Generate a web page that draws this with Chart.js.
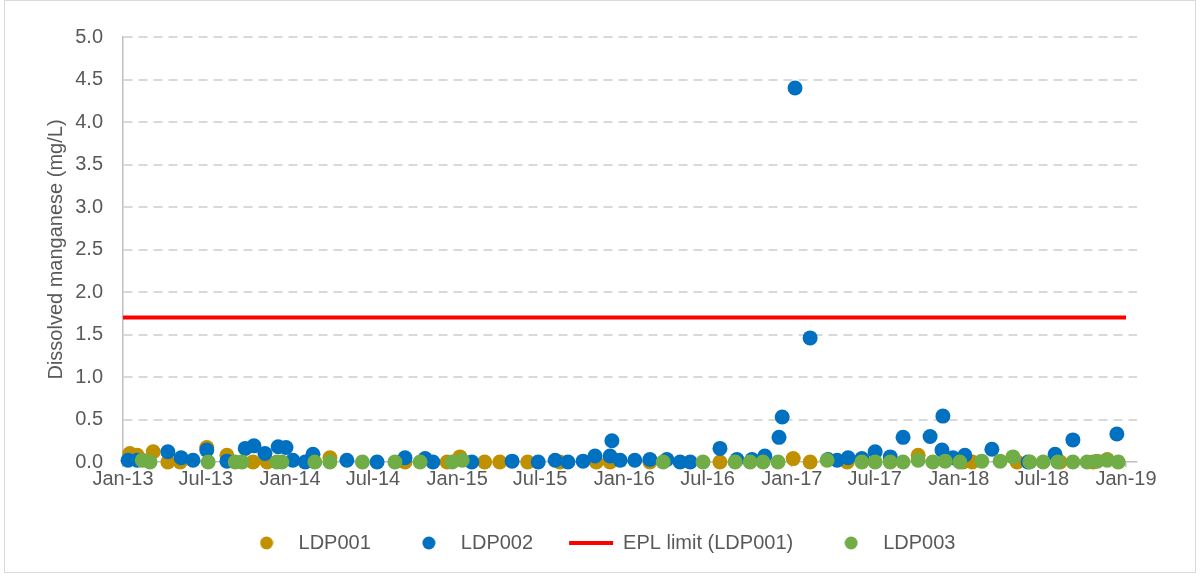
<!DOCTYPE html>
<html>
<head>
<meta charset="utf-8">
<script src="https://cdn.jsdelivr.net/npm/chart.js@4.4.1/dist/chart.umd.min.js"></script>
<style>
  html, body { margin: 0; padding: 0; background: #fff; }
  #wrap { position: relative; width: 1200px; height: 576px; }
</style>
</head>
<body>
<div id="wrap"><canvas id="chart" width="1200" height="576"></canvas></div>
<script>
// sample dates and dissolved manganese (mg/L)
const ldp001Dates = ['2013-01-16', '2013-02-01', '2013-03-08', '2013-04-09', '2013-05-06', '2013-07-03',
  '2013-08-16', '2013-10-12', '2013-11-12', '2014-03-29', '2014-09-09', '2014-12-10', '2015-01-07',
  '2015-03-02', '2015-04-04', '2015-06-04', '2015-08-13', '2015-11-01', '2015-12-01', '2016-02-26',
  '2016-07-28', '2017-01-04', '2017-02-10', '2017-05-02', '2017-10-04', '2018-01-10', '2018-01-30',
  '2018-05-08', '2018-08-10', '2018-10-21', '2018-11-21'];
const ldp001Values = [0.10, 0.08, 0.12, 0.00, 0.00, 0.17,
  0.08, 0.00, 0.00, 0.05, 0.00, 0.00, 0.06,
  0.00, 0.00, 0.00, 0.00, 0.00, 0.00, 0.00,
  0.00, 0.04, 0.00, 0.00, 0.08, 0.00, 0.00,
  0.00, 0.00, 0.00, 0.03];

const ldp002Dates = ['2013-01-12', '2013-02-01', '2013-04-09', '2013-05-08', '2013-06-03', '2013-07-03',
  '2013-08-16', '2013-09-25', '2013-10-14', '2013-11-07', '2013-12-06', '2013-12-23', '2014-01-07',
  '2014-02-03', '2014-02-20', '2014-05-05', '2014-07-10', '2014-09-09', '2014-10-23', '2014-11-09',
  '2015-02-02', '2015-05-01', '2015-06-27', '2015-08-03', '2015-08-31', '2015-10-03', '2015-10-29',
  '2015-12-01', '2015-12-05', '2015-12-23', '2016-01-24', '2016-02-26', '2016-04-03', '2016-05-02',
  '2016-05-24', '2016-07-28', '2016-09-03', '2016-10-06', '2016-11-03', '2016-12-04', '2016-12-11',
  '2017-01-08', '2017-02-10', '2017-03-21', '2017-04-10', '2017-05-04', '2017-06-03', '2017-07-02',
  '2017-08-04', '2017-09-01', '2017-10-30', '2017-11-25', '2017-11-27', '2017-12-19', '2018-01-14',
  '2018-03-14', '2018-06-01', '2018-07-30', '2018-09-07', '2018-12-12'];
const ldp002Values = [0.02, 0.02, 0.12, 0.05, 0.02, 0.14,
  0.01, 0.16, 0.19, 0.10, 0.18, 0.17, 0.02,
  0.00, 0.09, 0.02, 0.00, 0.05, 0.04, 0.00,
  0.00, 0.01, 0.00, 0.02, 0.00, 0.01, 0.07,
  0.07, 0.25, 0.02, 0.02, 0.03, 0.03, 0.00,
  0.00, 0.16, 0.03, 0.03, 0.07, 0.29, 0.53,
  4.40, 1.46, 0.03, 0.02, 0.05, 0.04, 0.12,
  0.06, 0.29, 0.30, 0.14, 0.54, 0.05, 0.08,
  0.15, 0.00, 0.09, 0.26, 0.33];

const ldp003Dates = ['2013-02-12', '2013-03-01', '2013-07-06', '2013-09-03', '2013-09-18', '2013-12-03',
  '2013-12-14', '2014-02-24', '2014-03-29', '2014-06-08', '2014-08-18', '2014-10-12', '2014-12-21',
  '2015-01-12', '2016-03-26', '2016-06-21', '2016-08-30', '2016-10-02', '2016-10-30', '2016-12-02',
  '2017-03-19', '2017-06-03', '2017-07-02', '2017-08-04', '2017-09-01', '2017-10-04', '2017-11-05',
  '2017-12-02', '2018-01-03', '2018-02-20', '2018-04-01', '2018-04-29', '2018-06-05', '2018-07-04',
  '2018-08-05', '2018-09-07', '2018-10-08', '2018-10-30', '2018-11-21', '2018-12-15'];
const ldp003Values = [0.02, 0.00, 0.00, 0.00, 0.00, 0.00,
  0.00, 0.00, 0.00, 0.00, 0.00, 0.00, 0.00,
  0.02, 0.00, 0.00, 0.00, 0.00, 0.00, 0.00,
  0.02, 0.00, 0.00, 0.00, 0.00, 0.02, 0.00,
  0.01, 0.00, 0.01, 0.01, 0.06, 0.00, 0.00,
  0.00, 0.00, 0.00, 0.01, 0.02, 0.00];

const eplDates = ['2013-01-01', '2019-01-01'];
const eplValues = [1.7, 1.7];

const xTickDates = ['2013-01-01', '2013-07-01', '2014-01-01', '2014-07-01', '2015-01-01', '2015-07-01',
  '2016-01-01', '2016-07-01', '2017-01-01', '2017-07-01', '2018-01-01', '2018-07-01', '2019-01-01'];
const xTickLabels = ['Jan-13', 'Jul-13', 'Jan-14', 'Jul-14', 'Jan-15', 'Jul-15',
  'Jan-16', 'Jul-16', 'Jan-17', 'Jul-17', 'Jan-18', 'Jul-18', 'Jan-19'];
const xStart = '2013-01-01';
const xEnd = '2019-01-25';

const TEXT = '#595959';
const AXIS = '#bfbfbf';

// days since the start of the axis
function dayOf(s) {
  const [y, m, d] = s.split('-').map(Number);
  return (Date.UTC(y, m - 1, d) - Date.UTC(2013, 0, 1)) / 86400000;
}
const toPoints = (dates, values) => dates.map((d, i) => ({ x: dayOf(d), y: values[i] }));

// round legend marker (pointStyleWidth would stretch a plain circle into an ellipse)
function dot(color) {
  const c = document.createElement('canvas');
  c.width = 14; c.height = 14;
  const g = c.getContext('2d');
  g.fillStyle = color;
  g.beginPath();
  g.arc(7, 7, 6.5, 0, Math.PI * 2);
  g.fill();
  return c;
}

Chart.defaults.font.family = '"Liberation Sans", Arial, sans-serif';
Chart.defaults.font.size = 20;
Chart.defaults.color = TEXT;

const frame = {
  id: 'frame',
  afterDraw(chart) {
    const c = chart.ctx;
    c.save();
    c.strokeStyle = '#d9d9d9';
    c.lineWidth = 1;
    c.strokeRect(4.5, 0.5, 1191, 572);
    c.restore();
  }
};

const markerSet = (label, dates, values, color, order) => ({
  label,
  data: toPoints(dates, values),
  backgroundColor: color,
  borderColor: color,
  pointRadius: 7.5,
  pointHoverRadius: 7.5,
  pointBorderWidth: 0,
  order,
  clip: false
});

new Chart(document.getElementById('chart'), {
  type: 'scatter',
  data: {
    datasets: [
      markerSet('LDP001', ldp001Dates, ldp001Values, '#BF9000', 3),
      markerSet('LDP002', ldp002Dates, ldp002Values, '#0070C0', 2),
      {
        label: 'EPL limit (LDP001)',
        data: toPoints(eplDates, eplValues),
        showLine: true,
        borderColor: '#FF0000',
        backgroundColor: '#FF0000',
        borderWidth: 4,
        pointRadius: 0,
        pointStyle: 'line',
        pointBorderWidth: 4,
        order: 1,
        clip: false
      },
      markerSet('LDP003', ldp003Dates, ldp003Values, '#70AD47', 0)
    ]
  },
  options: {
    responsive: false,
    animation: false,
    events: [],
    layout: { padding: { left: 0, right: 0, top: 37, bottom: 13 } },
    plugins: {
      tooltip: { enabled: false },
      legend: {
        position: 'bottom',
        labels: {
          usePointStyle: true,
          pointStyleWidth: 44,
          boxHeight: 10,
          padding: 36,
          color: TEXT,
          font: { size: 20 },
          sort: (a, b) => a.datasetIndex - b.datasetIndex,
          generateLabels(chart) {
            const items = Chart.defaults.plugins.legend.labels.generateLabels(chart);
            items.forEach(it => {
              if (it.pointStyle === 'circle') it.pointStyle = dot(it.fillStyle);
            });
            return items;
          }
        }
      }
    },
    scales: {
      x: {
        type: 'linear',
        min: dayOf(xStart),
        max: dayOf(xEnd),
        afterBuildTicks(scale) {
          scale.ticks = xTickDates.map(d => ({ value: dayOf(d) }));
        },
        afterFit(scale) { scale.height = 35; },
        ticks: {
          autoSkip: false,
          maxRotation: 0,
          padding: 0,
          color: TEXT,
          callback: (v, i) => xTickLabels[i]
        },
        grid: {
          drawOnChartArea: false,
          drawTicks: true,
          tickLength: 5,
          color: AXIS,
          lineWidth: 1.5
        },
        border: { color: AXIS, width: 1.5 }
      },
      y: {
        min: 0,
        max: 5,
        afterFit(scale) { scale.width = 123; },
        ticks: {
          stepSize: 0.5,
          padding: 20,
          color: TEXT,
          callback: v => v.toFixed(1)
        },
        grid: {
          drawTicks: false,
          lineWidth: 2,
          color: c => (c.tick && c.tick.value === 0 ? 'rgba(0,0,0,0)' : '#d9d9d9')
        },
        border: { color: AXIS, width: 1.5, dash: [9, 6] },
        title: {
          display: true,
          text: 'Dissolved manganese (mg/L)',
          color: TEXT,
          font: { size: 20 },
          padding: { top: 44, bottom: 0 }
        }
      },
      spacer: {
        type: 'linear',
        position: 'right',
        afterFit(scale) { scale.width = 63; },
        ticks: { display: false },
        grid: { display: false },
        border: { display: false }
      }
    }
  },
  plugins: [frame]
});
</script>
</body>
</html>
